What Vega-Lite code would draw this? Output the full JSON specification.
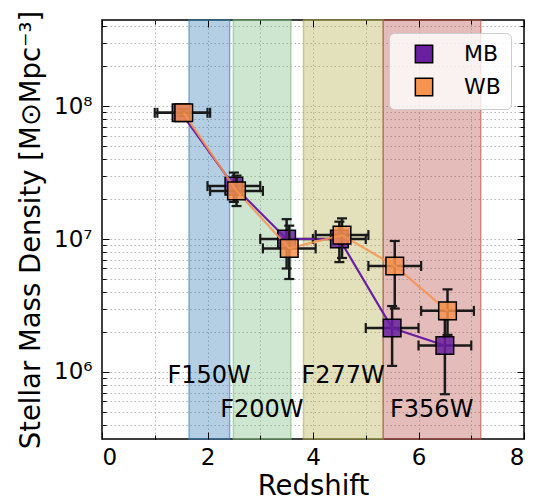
{
  "$schema": "https://vega.github.io/schema/vega-lite/v6.json",
  "width": 422,
  "height": 419,
  "autosize": {"type": "none"},
  "padding": {"left": 102, "right": 16, "top": 20, "bottom": 61},
  "config": {
    "font": "DejaVu Sans",
    "view": {"stroke": "black", "strokeWidth": 1.5},
    "axis": {"domain": false, "labelFont": "DejaVu Sans", "titleFont": "DejaVu Sans", "titleFontWeight": "normal", "labelColor": "black", "titleColor": "black", "tickColor": "black", "gridColor": "#b5b5b5", "gridDash": [1.5, 2.5], "gridWidth": 1, "gridOpacity": 1}
  },
  "resolve": {"axis": {"x": "independent", "y": "independent"}},
  "datasets": {
    "bands": [
      {"b": "F150W", "x0": 1.65, "x1": 2.42},
      {"b": "F200W", "x0": 2.49, "x1": 3.58},
      {"b": "F277W", "x0": 3.82, "x1": 5.33},
      {"b": "F356W", "x0": 5.33, "x1": 7.18}
    ],
    "labels": [
      {"t": "F150W", "x": 2.03, "y": 820000},
      {"t": "F200W", "x": 3.03, "y": 460000},
      {"t": "F277W", "x": 4.57, "y": 820000},
      {"t": "F356W", "x": 6.25, "y": 460000}
    ],
    "mb": [
      {"s": "MB", "z": 1.5, "zlo": 1.0, "zhi": 2.0, "m": 89000000, "lo": 84000000, "hi": 95000000},
      {"s": "MB", "z": 2.5, "zlo": 2.0, "zhi": 3.0, "m": 25000000, "lo": 19000000, "hi": 31600000},
      {"s": "MB", "z": 3.5, "zlo": 3.0, "zhi": 4.0, "m": 10000000, "lo": 6000000, "hi": 14100000},
      {"s": "MB", "z": 4.5, "zlo": 4.0, "zhi": 5.0, "m": 10000000, "lo": 6700000, "hi": 13500000},
      {"s": "MB", "z": 5.5, "zlo": 5.0, "zhi": 6.0, "m": 2140000, "lo": 1110000, "hi": 3130000},
      {"s": "MB", "z": 6.5, "zlo": 6.0, "zhi": 7.0, "m": 1580000, "lo": 680000, "hi": 2500000}
    ],
    "wb": [
      {"s": "WB", "z": 1.55, "zlo": 1.05, "zhi": 2.05, "m": 89000000, "lo": 84000000, "hi": 95000000},
      {"s": "WB", "z": 2.55, "zlo": 2.05, "zhi": 3.05, "m": 23000000, "lo": 17700000, "hi": 30000000},
      {"s": "WB", "z": 3.55, "zlo": 3.05, "zhi": 4.05, "m": 8500000, "lo": 5000000, "hi": 12600000},
      {"s": "WB", "z": 4.55, "zlo": 4.05, "zhi": 5.05, "m": 10700000, "lo": 7200000, "hi": 14300000},
      {"s": "WB", "z": 5.55, "zlo": 5.05, "zhi": 6.05, "m": 6270000, "lo": 3000000, "hi": 9660000},
      {"s": "WB", "z": 6.55, "zlo": 6.05, "zhi": 7.05, "m": 2880000, "lo": 1900000, "hi": 4180000}
    ]
  },
  "layer": [
    {
      "data": {"name": "bands"},
      "mark": {"type": "rect", "fillOpacity": 0.38, "strokeOpacity": 0.6, "strokeWidth": 1.5},
      "encoding": {
        "x": {"field": "x0", "type": "quantitative", "scale": {"domain": [0, 8], "nice": false, "zero": false},
              "axis": {"orient": "bottom", "values": [0, 2, 4, 6, 8], "ticks": false, "grid": false, "labelFontSize": 23, "labelPadding": 7, "title": "Redshift", "titleFontSize": 27.5, "titlePadding": 3}},
        "x2": {"field": "x1"},
        "fill": {"field": "b", "type": "nominal", "scale": {"domain": ["F150W", "F200W", "F277W", "F356W"], "range": ["#3a82b9", "#7dbe82", "#b2af4e", "#b95046"]}, "legend": null},
        "stroke": {"field": "b", "type": "nominal", "scale": {"domain": ["F150W", "F200W", "F277W", "F356W"], "range": ["#3a82b9", "#7dbe82", "#b2af4e", "#b95046"]}, "legend": null}
      }
    },
    {
      "data": {"name": "labels"},
      "mark": {"type": "text", "fontSize": 24, "baseline": "alphabetic", "align": "center", "color": "black"},
      "encoding": {
        "x": {"field": "x", "type": "quantitative", "scale": {"domain": [0, 8], "nice": false, "zero": false},
              "axis": {"orient": "bottom", "values": [0, 2, 4, 6, 8], "labels": false, "grid": false, "tickSize": -7, "tickWidth": 1, "title": null, "zindex": 1}},
        "y": {"field": "y", "type": "quantitative", "scale": {"type": "log", "domain": [313000, 444000000], "nice": false},
              "axis": {"orient": "left", "values": [1000000, 10000000, 100000000], "labelExpr": "'10' + (datum.value >= 5e7 ? '⁸' : datum.value >= 5e6 ? '⁷' : '⁶')", "ticks": false, "grid": false, "labelFontSize": 23, "labelPadding": 10, "title": "Stellar Mass Density [M⊙Mpc⁻³]", "titleFontSize": 27.5, "titlePadding": 8}},
        "text": {"field": "t"}
      }
    },
    {
      "data": {"name": "mb"},
      "mark": {"type": "rule", "color": "#1a1a1a", "strokeWidth": 2.5},
      "encoding": {
        "x": {"field": "z", "type": "quantitative", "scale": {"domain": [0, 8], "nice": false, "zero": false},
              "axis": {"orient": "bottom", "values": [1, 3, 5, 7], "labels": false, "grid": false, "tickSize": -4, "tickWidth": 1, "title": null, "zindex": 1}},
        "y": {"field": "lo", "type": "quantitative", "scale": {"type": "log", "domain": [313000, 444000000], "nice": false},
              "axis": {"orient": "left", "values": [1000000, 10000000, 100000000], "labels": false, "grid": false, "tickSize": -7, "tickWidth": 1, "title": null, "zindex": 1}},
        "y2": {"field": "hi"}
      }
    },
    {
      "data": {"name": "mb"},
      "mark": {"type": "rule", "color": "#1a1a1a", "strokeWidth": 2.5},
      "encoding": {
        "x": {"field": "zlo", "type": "quantitative", "scale": {"domain": [0, 8], "nice": false, "zero": false},
              "axis": {"orient": "top", "values": [0, 2, 4, 6, 8], "labels": false, "grid": false, "tickSize": -7, "tickWidth": 1, "title": null, "zindex": 1}},
        "x2": {"field": "zhi"},
        "y": {"field": "m", "type": "quantitative", "scale": {"type": "log", "domain": [313000, 444000000], "nice": false},
              "axis": {"orient": "left", "values": [400000, 500000, 600000, 700000, 800000, 900000, 2000000, 3000000, 4000000, 5000000, 6000000, 7000000, 8000000, 9000000, 20000000, 30000000, 40000000, 50000000, 60000000, 70000000, 80000000, 90000000, 200000000, 300000000, 400000000], "labels": false, "grid": false, "tickSize": -4, "tickWidth": 1, "title": null, "zindex": 1}}
      }
    },
    {
      "data": {"name": "mb"},
      "mark": {"type": "tick", "orient": "horizontal", "color": "#1a1a1a", "size": 10, "thickness": 2.2, "opacity": 1},
      "encoding": {
        "x": {"field": "z", "type": "quantitative", "scale": {"domain": [0, 8], "nice": false, "zero": false},
              "axis": {"orient": "top", "values": [1, 3, 5, 7], "labels": false, "grid": false, "tickSize": -4, "tickWidth": 1, "title": null, "zindex": 1}},
        "y": {"field": "lo", "type": "quantitative", "scale": {"type": "log", "domain": [313000, 444000000], "nice": false},
              "axis": {"orient": "right", "values": [1000000, 10000000, 100000000], "labels": false, "grid": false, "tickSize": -7, "tickWidth": 1, "title": null, "zindex": 1}}
      }
    },
    {
      "data": {"name": "mb"},
      "mark": {"type": "tick", "orient": "horizontal", "color": "#1a1a1a", "size": 10, "thickness": 2.2, "opacity": 1},
      "encoding": {
        "x": {"field": "z", "type": "quantitative", "scale": {"domain": [0, 8], "nice": false, "zero": false},
              "axis": {"orient": "bottom", "values": [1, 2, 3, 4, 5, 6, 7], "labels": false, "ticks": false, "grid": true, "title": null}},
        "y": {"field": "hi", "type": "quantitative", "scale": {"type": "log", "domain": [313000, 444000000], "nice": false},
              "axis": {"orient": "right", "values": [400000, 500000, 600000, 700000, 800000, 900000, 2000000, 3000000, 4000000, 5000000, 6000000, 7000000, 8000000, 9000000, 20000000, 30000000, 40000000, 50000000, 60000000, 70000000, 80000000, 90000000, 200000000, 300000000, 400000000], "labels": false, "grid": false, "tickSize": -4, "tickWidth": 1, "title": null, "zindex": 1}}
      }
    },
    {
      "data": {"name": "mb"},
      "mark": {"type": "tick", "orient": "vertical", "color": "#1a1a1a", "size": 10, "thickness": 2.2, "opacity": 1},
      "encoding": {
        "x": {"field": "zlo", "type": "quantitative", "scale": {"domain": [0, 8], "nice": false, "zero": false}, "axis": null},
        "y": {"field": "m", "type": "quantitative", "scale": {"type": "log", "domain": [313000, 444000000], "nice": false},
              "axis": {"orient": "left", "values": [400000, 500000, 600000, 700000, 800000, 900000, 1000000, 2000000, 3000000, 4000000, 5000000, 6000000, 7000000, 8000000, 9000000, 10000000, 20000000, 30000000, 40000000, 50000000, 60000000, 70000000, 80000000, 90000000, 100000000, 200000000, 300000000, 400000000], "labels": false, "ticks": false, "grid": true, "title": null}}
      }
    },
    {
      "data": {"name": "mb"},
      "mark": {"type": "tick", "orient": "vertical", "color": "#1a1a1a", "size": 10, "thickness": 2.2, "opacity": 1},
      "encoding": {
        "x": {"field": "zhi", "type": "quantitative", "scale": {"domain": [0, 8], "nice": false, "zero": false}, "axis": null},
        "y": {"field": "m", "type": "quantitative", "scale": {"type": "log", "domain": [313000, 444000000], "nice": false}, "axis": null}
      }
    },
    {
      "data": {"name": "mb"},
      "mark": {"type": "line", "color": "#6a1fa0", "strokeWidth": 2.2},
      "encoding": {
        "x": {"field": "z", "type": "quantitative", "scale": {"domain": [0, 8], "nice": false, "zero": false}, "axis": null},
        "y": {"field": "m", "type": "quantitative", "scale": {"type": "log", "domain": [313000, 444000000], "nice": false}, "axis": null}
      }
    },
    {
      "data": {"name": "mb"},
      "mark": {"type": "point", "shape": "square", "filled": true, "size": 310, "stroke": "black", "strokeWidth": 1.5, "fillOpacity": 0.85, "opacity": 1},
      "encoding": {
        "x": {"field": "z", "type": "quantitative", "scale": {"domain": [0, 8], "nice": false, "zero": false}, "axis": null},
        "y": {"field": "m", "type": "quantitative", "scale": {"type": "log", "domain": [313000, 444000000], "nice": false}, "axis": null},
        "color": {"field": "s", "type": "nominal", "scale": {"domain": ["MB", "WB"], "range": ["#6a1fa0", "#f7924f"]},
                  "legend": {"title": null, "orient": "top-right", "offset": 13, "fillColor": "rgba(255,255,255,0.8)", "strokeColor": "#cccccc", "cornerRadius": 5, "padding": 10, "labelFontSize": 22, "labelFont": "DejaVu Sans", "labelColor": "black", "symbolType": "square", "symbolSize": 300, "symbolStrokeColor": "black", "symbolStrokeWidth": 1.5, "symbolOpacity": 1, "symbolOffset": 14, "labelOffset": 29, "rowPadding": 9}}
      }
    },
    {
      "data": {"name": "wb"},
      "mark": {"type": "rule", "color": "#1a1a1a", "strokeWidth": 2.5},
      "encoding": {
        "x": {"field": "z", "type": "quantitative", "scale": {"domain": [0, 8], "nice": false, "zero": false}, "axis": null},
        "y": {"field": "lo", "type": "quantitative", "scale": {"type": "log", "domain": [313000, 444000000], "nice": false}, "axis": null},
        "y2": {"field": "hi"}
      }
    },
    {
      "data": {"name": "wb"},
      "mark": {"type": "rule", "color": "#1a1a1a", "strokeWidth": 2.5},
      "encoding": {
        "x": {"field": "zlo", "type": "quantitative", "scale": {"domain": [0, 8], "nice": false, "zero": false}, "axis": null},
        "x2": {"field": "zhi"},
        "y": {"field": "m", "type": "quantitative", "scale": {"type": "log", "domain": [313000, 444000000], "nice": false}, "axis": null}
      }
    },
    {
      "data": {"name": "wb"},
      "mark": {"type": "tick", "orient": "horizontal", "color": "#1a1a1a", "size": 10, "thickness": 2.2, "opacity": 1},
      "encoding": {
        "x": {"field": "z", "type": "quantitative", "scale": {"domain": [0, 8], "nice": false, "zero": false}, "axis": null},
        "y": {"field": "lo", "type": "quantitative", "scale": {"type": "log", "domain": [313000, 444000000], "nice": false}, "axis": null}
      }
    },
    {
      "data": {"name": "wb"},
      "mark": {"type": "tick", "orient": "horizontal", "color": "#1a1a1a", "size": 10, "thickness": 2.2, "opacity": 1},
      "encoding": {
        "x": {"field": "z", "type": "quantitative", "scale": {"domain": [0, 8], "nice": false, "zero": false}, "axis": null},
        "y": {"field": "hi", "type": "quantitative", "scale": {"type": "log", "domain": [313000, 444000000], "nice": false}, "axis": null}
      }
    },
    {
      "data": {"name": "wb"},
      "mark": {"type": "tick", "orient": "vertical", "color": "#1a1a1a", "size": 10, "thickness": 2.2, "opacity": 1},
      "encoding": {
        "x": {"field": "zlo", "type": "quantitative", "scale": {"domain": [0, 8], "nice": false, "zero": false}, "axis": null},
        "y": {"field": "m", "type": "quantitative", "scale": {"type": "log", "domain": [313000, 444000000], "nice": false}, "axis": null}
      }
    },
    {
      "data": {"name": "wb"},
      "mark": {"type": "tick", "orient": "vertical", "color": "#1a1a1a", "size": 10, "thickness": 2.2, "opacity": 1},
      "encoding": {
        "x": {"field": "zhi", "type": "quantitative", "scale": {"domain": [0, 8], "nice": false, "zero": false}, "axis": null},
        "y": {"field": "m", "type": "quantitative", "scale": {"type": "log", "domain": [313000, 444000000], "nice": false}, "axis": null}
      }
    },
    {
      "data": {"name": "wb"},
      "mark": {"type": "line", "color": "#f7924f", "strokeWidth": 2.2, "opacity": 0.85},
      "encoding": {
        "x": {"field": "z", "type": "quantitative", "scale": {"domain": [0, 8], "nice": false, "zero": false}, "axis": null},
        "y": {"field": "m", "type": "quantitative", "scale": {"type": "log", "domain": [313000, 444000000], "nice": false}, "axis": null}
      }
    },
    {
      "data": {"name": "wb"},
      "mark": {"type": "point", "shape": "square", "filled": true, "size": 310, "stroke": "black", "strokeWidth": 1.5, "fillOpacity": 0.85, "opacity": 1},
      "encoding": {
        "x": {"field": "z", "type": "quantitative", "scale": {"domain": [0, 8], "nice": false, "zero": false}, "axis": null},
        "y": {"field": "m", "type": "quantitative", "scale": {"type": "log", "domain": [313000, 444000000], "nice": false}, "axis": null},
        "color": {"field": "s", "type": "nominal", "scale": {"domain": ["MB", "WB"], "range": ["#6a1fa0", "#f7924f"]},
                  "legend": {"title": null, "orient": "top-right", "offset": 13, "fillColor": "rgba(255,255,255,0.8)", "strokeColor": "#cccccc", "cornerRadius": 5, "padding": 10, "labelFontSize": 22, "labelFont": "DejaVu Sans", "labelColor": "black", "symbolType": "square", "symbolSize": 300, "symbolStrokeColor": "black", "symbolStrokeWidth": 1.5, "symbolOpacity": 1, "symbolOffset": 14, "labelOffset": 29, "rowPadding": 9}}
      }
    }
  ]
}
